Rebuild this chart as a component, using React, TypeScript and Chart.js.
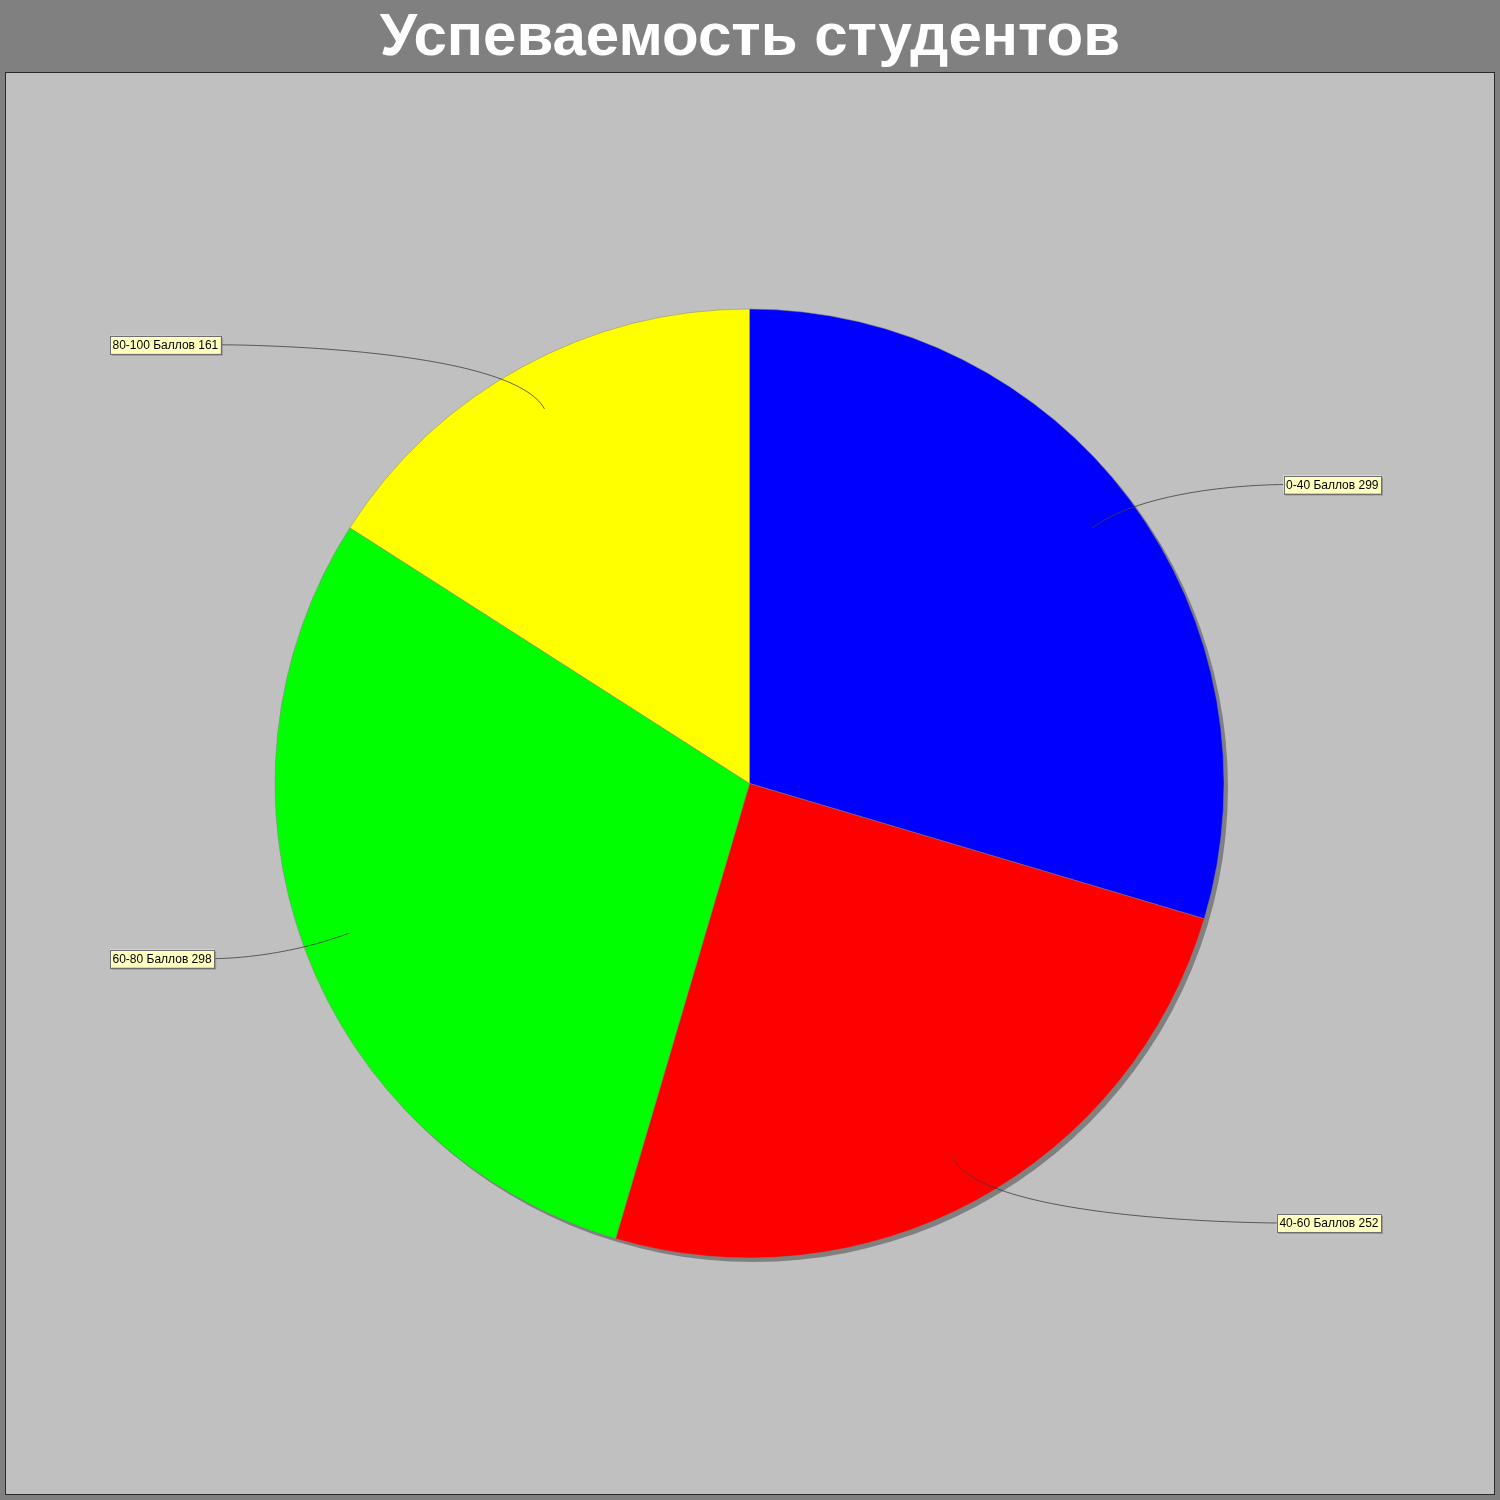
import React, { useEffect, useRef } from "react";
import { Chart, registerables } from "chart.js";

Chart.register(...registerables);

const TITLE = "Успеваемость студентов";
const categories = ["0-40 Баллов", "40-60 Баллов", "60-80 Баллов", "80-100 Баллов"];
const values = [299, 252, 298, 161];
const colors = ["#0000FF", "#FF0000", "#00FF00", "#FFFF00"];

const W = 1500;
const H = 1500;
const PLOT = { x: 5.5, y: 72.5, w: 1489, h: 1422 };
const CX = 749.5;
const CY = 783.5;
const R = 474.5;

const decorPlugin = {
  id: "decor",
  beforeDraw(chart: any) {
    const ctx = chart.ctx;
    ctx.save();
    ctx.fillStyle = "#808080";
    ctx.fillRect(0, 0, W, H);
    ctx.fillStyle = "#C0C0C0";
    ctx.fillRect(PLOT.x, PLOT.y, PLOT.w, PLOT.h);
    ctx.strokeStyle = "#2a2a2a";
    ctx.lineWidth = 1;
    ctx.strokeRect(PLOT.x, PLOT.y, PLOT.w, PLOT.h);
    // title
    ctx.fillStyle = "#FFFFFF";
    ctx.font = "bold 60px 'Liberation Sans', Arial, sans-serif";
    ctx.textAlign = "center";
    ctx.textBaseline = "alphabetic";
    ctx.fillText(TITLE, 750, 55);
    // pie shadow
    const meta = chart.getDatasetMeta(0);
    const arc = meta.data[0];
    if (arc) {
      ctx.fillStyle = "#808080";
      ctx.beginPath();
      ctx.arc(arc.x + 4, arc.y + 4, arc.outerRadius, 0, Math.PI * 2);
      ctx.fill();
    }
    ctx.restore();
  },
  afterDatasetsDraw(chart: any) {
    const ctx = chart.ctx;
    const meta = chart.getDatasetMeta(0);
    ctx.save();
    ctx.font = "12px 'Liberation Sans', Arial, sans-serif";
    ctx.textBaseline = "middle";
    meta.data.forEach((arc: any, i: number) => {
      const mid = (arc.startAngle + arc.endAngle) / 2;
      const cx = arc.x;
      const cy = arc.y;
      const r = arc.outerRadius;
      const linkX = cx + Math.cos(mid) * r * 0.9;
      const linkY = cy + Math.sin(mid) * r * 0.9;
      const elbowX = cx + Math.cos(mid) * r * 1.054;
      const elbowY = cy + Math.sin(mid) * r * 1.054;
      const right = Math.cos(mid) > 0;
      const text = categories[i] + " " + values[i];
      const tw = ctx.measureText(text).width;
      const bw = tw + 5;
      const bh = 18;
      const bx = right ? 1381 - bw : 110;
      const by = elbowY - bh / 2;
      const edgeX = right ? bx : bx + bw;
      const anchorX = right ? cx + r * 1.12 : cx - r * 1.12;
      // link curve
      ctx.strokeStyle = "#3c3c3c";
      ctx.lineWidth = 0.8;
      ctx.beginPath();
      ctx.moveTo(edgeX, elbowY);
      ctx.bezierCurveTo(anchorX, elbowY, elbowX, elbowY, linkX, linkY);
      ctx.stroke();
      // label shadow
      ctx.fillStyle = "rgba(120,120,120,0.6)";
      ctx.fillRect(bx + 2, by + 2, bw, bh);
      // label box
      ctx.fillStyle = "#FFFFC0";
      ctx.fillRect(bx, by, bw, bh);
      ctx.strokeStyle = "#6e6e6e";
      ctx.lineWidth = 1;
      ctx.strokeRect(Math.round(bx) + 0.5, Math.round(by) + 0.5, Math.round(bw), bh);
      ctx.fillStyle = "#000000";
      ctx.textAlign = "left";
      ctx.fillText(text, bx + 2.5, elbowY + 1);
    });
    ctx.restore();
  },
};

export default function App() {
  const ref = useRef<HTMLCanvasElement | null>(null);
  useEffect(() => {
    document.body.style.margin = "0";
    const canvas = ref.current;
    if (!canvas) return;
    const chart = new Chart(canvas, {
      type: "pie",
      data: {
        labels: categories,
        datasets: [
          {
            data: values,
            backgroundColor: colors,
            borderColor: "#808080",
            borderWidth: 0.5,
          },
        ],
      },
      options: {
        responsive: false,
        animation: false,
        devicePixelRatio: 1,
        radius: R,
        layout: {
          padding: { left: CX - R, right: W - (CX + R), top: CY - R, bottom: H - (CY + R) },
        },
        plugins: {
          legend: { display: false },
          title: { display: false },
          tooltip: { enabled: false },
        },
      } as any,
      plugins: [decorPlugin],
    });
    return () => chart.destroy();
  }, []);
  return <canvas ref={ref} width={W} height={H} style={{ display: "block" }} />;
}
